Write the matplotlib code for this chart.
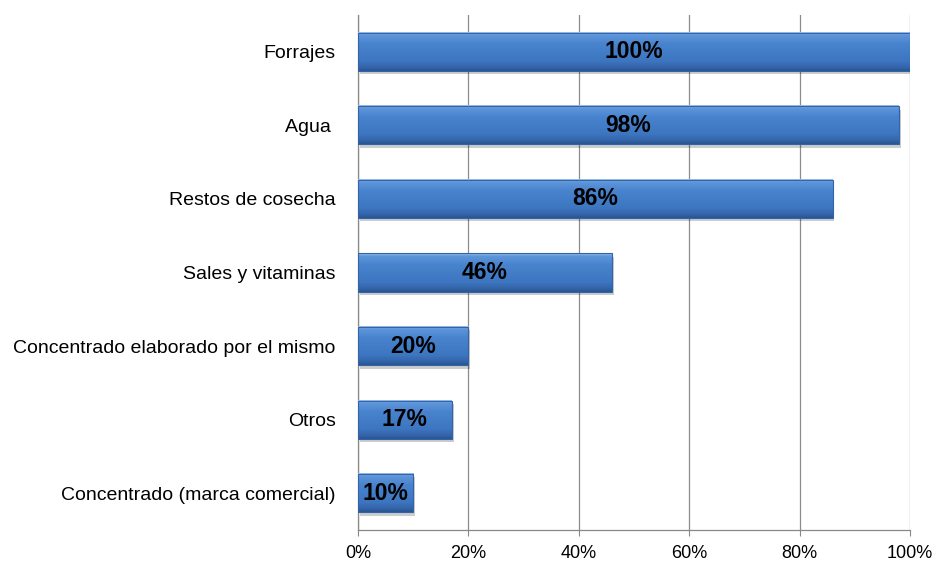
import matplotlib
matplotlib.use("Agg")
import matplotlib.pyplot as plt
import numpy as np
from matplotlib.colors import LinearSegmentedColormap

categories = ["Forrajes", "Agua ", "Restos de cosecha", "Sales y vitaminas",
              "Concentrado elaborado por el mismo", "Otros",
              "Concentrado (marca comercial)"]
values = [100, 98, 86, 46, 20, 17, 10]
value_labels = ["100%", "98%", "86%", "46%", "20%", "17%", "10%"]
xticks = [0, 20, 40, 60, 80, 100]
xtick_labels = ["0%", "20%", "40%", "60%", "80%", "100%"]

plt.rcParams["font.family"] = ["Liberation Sans", "DejaVu Sans"]

fig = plt.figure(figsize=(9.36, 5.65), dpi=100)
ax = fig.add_axes([0.3825, 0.0619, 0.9722 - 0.3825, 0.9735 - 0.0619])

bh = 0.52
ypos = np.arange(len(categories))

grad = np.linspace(0, 1, 64).reshape(-1, 1)
cmap = LinearSegmentedColormap.from_list(
    "bar", [(0.0, "#9CC0EC"), (0.07, "#5E96DA"), (0.3, "#4883CE"),
            (0.75, "#3D76C0"), (0.92, "#3363A8"), (1.0, "#2A5590")])

for y, v, lab in zip(ypos, values, value_labels):
    ax.add_patch(plt.Rectangle((0.3, y - bh / 2 + 0.045), v, bh, facecolor="#000000",
                               alpha=0.2, edgecolor="none", zorder=2))
    ax.imshow(grad, extent=(0, v, y + bh / 2, y - bh / 2), cmap=cmap, aspect="auto",
              zorder=3, interpolation="bilinear")
    ax.add_patch(plt.Rectangle((0, y - bh / 2), v, bh, facecolor="none",
                               edgecolor="#3363A8", linewidth=0.8, zorder=4))
    ax.text(v / 2, y, lab, ha="center", va="center", fontsize=16.5,
            fontweight="bold", color="black", zorder=5)

ax.set_xlim(0, 100)
ax.set_ylim(len(categories) - 0.5, -0.5)
ax.set_yticks(ypos)
ax.set_yticklabels(categories, fontsize=14)
ax.set_xticks(xticks)
ax.set_xticklabels(xtick_labels, fontsize=13)
ax.tick_params(axis="y", length=0, pad=16)
ax.tick_params(axis="x", length=4, color="#888888", pad=7)
ax.grid(axis="x", color="#8C8C8C", linewidth=0.9, zorder=0)
ax.set_axisbelow(True)
for s in ["top", "right"]:
    ax.spines[s].set_visible(False)
for s in ["left", "bottom"]:
    ax.spines[s].set_color("#888888")
    ax.spines[s].set_linewidth(0.9)

fig.savefig("out.png", dpi=100)
